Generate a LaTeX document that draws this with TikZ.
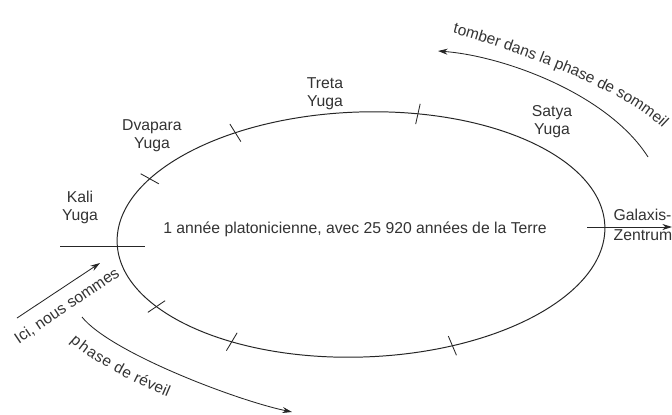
\documentclass[tikz,border=0pt]{standalone}
\usepackage{fontspec}
\setmainfont{Liberation Sans}
\usetikzlibrary{arrows.meta, decorations.text}
\newcommand{\lblfont}{\fontsize{11}{12.5}\selectfont}
\newcommand{\yugafont}{\fontsize{11.2}{12.8}\selectfont}

\begin{document}
\begin{tikzpicture}[
    % ── Text labels: small sans, dark grey ───────────────────────────
    yuga/.style={align=center, font=\yugafont, text=black!80, inner sep=1pt},
    lbl/.style={font=\yugafont, text=black!80, inner sep=1pt},
    % ── Orbit and its division marks ─────────────────────────────────
    orbit/.style={line width=0.7pt, draw=black!85},
    tick/.style={line width=0.6pt, draw=black!85},
    % ── Arrows: thin, small filled tip ───────────────────────────────
    arrow/.style={line width=0.6pt, draw=black!85,
                  -{Stealth[length=2.4mm, width=1.5mm]}},
    backarrow/.style={line width=0.6pt, draw=black!85,
                  {Stealth[length=2.4mm, width=1.5mm]}-}
]

    \fill[white] (0,0) rectangle (16.8,10.35);
    \useasboundingbox (0,0) rectangle (16.8,10.35);

% ══════════════════════════════════════════════════════════════════════
% ORBIT
% ══════════════════════════════════════════════════════════════════════

    \coordinate (c) at (9.025, 4.4875);
    \begin{scope}[shift={(c)}, rotate=2]
        \draw[orbit] (0,0) ellipse [x radius=6.1cm, y radius=3.0625cm];
        \foreach \ang in {149, 120, 75.5, 212, 237, 291}
            \draw[tick] (\ang:5.84cm and 2.8cm) -- (\ang:6.36cm and 3.32cm);
    \end{scope}

    % ── Kali mark and axis to the centre of the galaxy ──
    \coordinate (kaliW) at (1.5, 4.2);
    \coordinate (kaliE) at (3.625, 4.2);
    \draw[tick] (kaliW) -- (kaliE);

    \coordinate (galW) at (14.675, 4.675);
    \coordinate (galE) at (16.8, 4.675);
    \draw[arrow] (galW) -- (galE);

% ══════════════════════════════════════════════════════════════════════
% LABELS
% ══════════════════════════════════════════════════════════════════════

    \node[yuga] (kali)    at (2.0, 5.1625)   {Kali\\Yuga};
    \node[yuga] (dvapara) at (3.8, 6.95)     {Dvapara\\Yuga};
    \node[yuga] (treta)   at (8.125, 8.0125) {Treta\\Yuga};
    \node[yuga] (satya)   at (13.8, 7.3125)  {Satya\\Yuga};

    \node[lbl] (year) at (8.875, 4.625)
        {1 année platonicienne, avec 25 920 années de la Terre};

    \node[lbl, anchor=west] (galaxis) at (15.3, 4.975) {Galaxis-};
    \node[lbl, anchor=west] (zentrum) at (15.3, 4.475) {Zentrum};

% ══════════════════════════════════════════════════════════════════════
% PHASE ARROWS
% ══════════════════════════════════════════════════════════════════════

    % ── falling asleep (top right) ──
    \coordinate (sleepTip)  at (10.95, 9.075);
    \coordinate (sleepTail) at (16.2, 6.425);
    \draw[backarrow]
        (sleepTip) .. controls (12.6, 8.95) and (15.2, 8.0) .. (sleepTail);
    \coordinate (sleepTxtA) at (11.125, 9.575);
    \coordinate (sleepTxtB) at (16.7, 7.0);
    \path[decorate, decoration={text along path,
            text={|\lblfont|tomber dans la phase de sommeil},
            text color=black!80, text align=center}]
        (sleepTxtA) .. controls (12.625, 9.2) and (15.825, 8.05) .. (sleepTxtB);

    % ── awakening (bottom left) ──
    \coordinate (wakeTail) at (2.05, 2.425);
    \coordinate (wakeTip)  at (7.3, 0.05);
    \draw[arrow, postaction={decorate, decoration={text along path,
            text={|\lblfont|phase de réveil},
            text color=black!80, text align={left indent=5pt}, raise=-18pt}}]
        (wakeTail) .. controls (2.75, 1.55) and (5.875, 0.35) .. (wakeTip);

    % ── we are here ──
    \coordinate (hereTail) at (0.425, 2.4);
    \coordinate (hereTip)  at (2.5, 3.775);
    \draw[arrow] (hereTail) -- (hereTip);
    \node[lbl, rotate=34] (here) at (1.675, 2.7) {Ici, nous sommes};

\end{tikzpicture}
\end{document}
